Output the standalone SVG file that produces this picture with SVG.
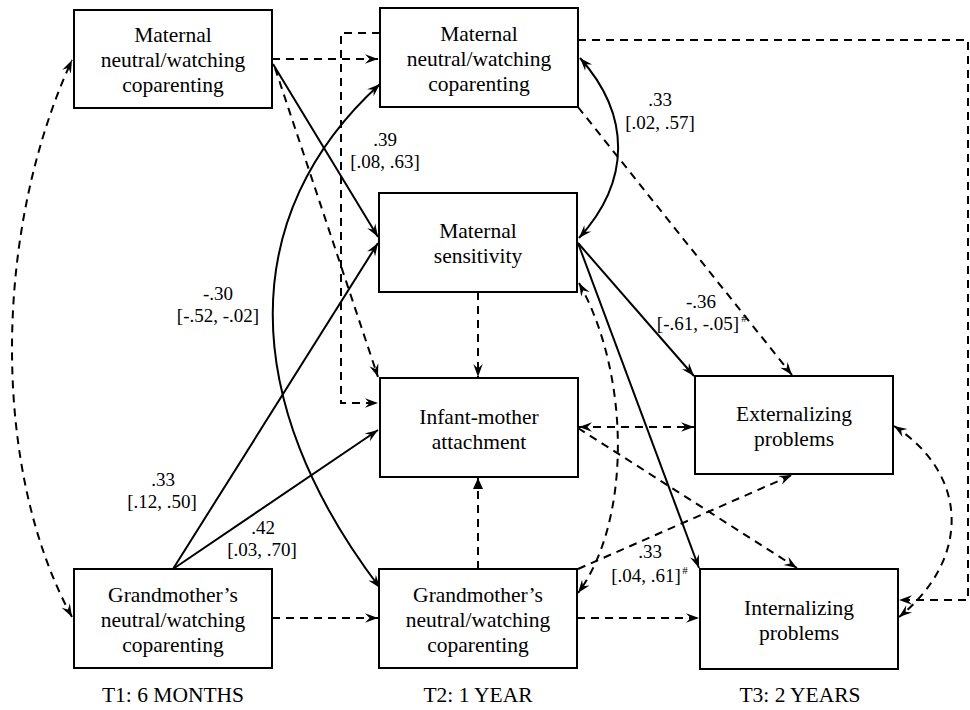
<svg xmlns="http://www.w3.org/2000/svg" width="970" height="710" viewBox="0 0 970 710" font-family="'Liberation Serif', Tinos, 'Times New Roman', 'DejaVu Serif', serif">
<defs>
<marker id="a" markerUnits="userSpaceOnUse" markerWidth="14" markerHeight="12" refX="13" refY="5" orient="auto-start-reverse" overflow="visible">
<path d="M0,0.3 L13,5 L0,9.7 L4.5,5 Z" fill="#000"/>
</marker>
<marker id="t" markerUnits="userSpaceOnUse" markerWidth="12" markerHeight="12" refX="11" refY="5" orient="auto" overflow="visible">
<path d="M0,0 L11,5 L0,10 Z" fill="#000"/>
</marker>
<style>
.box{fill:#fff;stroke:#000;stroke-width:2}
text{font-family:'Liberation Serif', Tinos, 'Times New Roman', 'DejaVu Serif', serif}
.nt{font-size:21.5px;fill:#000;text-anchor:middle}
.lb{font-size:19px;fill:#000;text-anchor:middle}
.sl{fill:none;stroke:#000;stroke-width:2}
.ds{fill:none;stroke:#000;stroke-width:2;stroke-dasharray:8 6}
</style>
</defs>
<rect width="970" height="710" fill="#fff"/>
<g id="connectors">
<path class="ds" d="M72,617 C-8,471 -8,234 72,60" marker-start="url(#a)" marker-end="url(#a)"/>
<path class="ds" d="M272,59 H378" marker-end="url(#a)"/>
<path class="sl" d="M273,64 L378,237" marker-end="url(#a)"/>
<path class="ds" d="M275,68 L378,377" marker-end="url(#a)"/>
<path class="ds" d="M380,33 H341 V403 H378" marker-end="url(#a)"/>
<path class="sl" d="M380,84 C237,214 237,400 380,588" marker-start="url(#a)" marker-end="url(#a)"/>
<path class="sl" d="M173,569 L378,243" marker-end="url(#a)"/>
<path class="sl" d="M173,569 L378,430" marker-end="url(#a)"/>
<path class="ds" d="M272,618 H378" marker-end="url(#a)"/>
<path class="ds" d="M478,292 V377" marker-end="url(#a)"/>
<path class="ds" d="M478,569 V478" marker-end="url(#t)"/>
<path class="sl" d="M580,58 C631,115 631,181 579,238" marker-start="url(#a)" marker-end="url(#a)"/>
<path class="ds" d="M578,107 L792,375" marker-end="url(#a)"/>
<path class="ds" d="M578,40 H968 V600 H899" marker-end="url(#a)"/>
<path class="sl" d="M578,243 L694,376" marker-end="url(#a)"/>
<path class="sl" d="M578,243 L699,568" marker-end="url(#a)"/>
<path class="ds" d="M579,427 H694" marker-start="url(#a)" marker-end="url(#a)"/>
<path class="ds" d="M578,428 L797,568" marker-end="url(#a)"/>
<path class="ds" d="M578,569 L792,475" marker-end="url(#a)"/>
<path class="ds" d="M579,283 C631,376 631,522 578,593" marker-start="url(#a)" marker-end="url(#a)"/>
<path class="ds" d="M577,618 H699" marker-end="url(#a)"/>
<path class="ds" d="M894,426 C970,475 970,560 899,617" marker-start="url(#a)" marker-end="url(#a)"/>
</g>
<g id="n_mat_t1">
<rect class="box" x="74" y="10" width="198" height="98"/>
<text class="nt" x="173" y="42">Maternal</text>
<text class="nt" x="173" y="67">neutral/watching</text>
<text class="nt" x="173" y="92">coparenting</text>
</g>
<g id="n_gm_t1">
<rect class="box" x="74" y="569" width="198" height="99"/>
<text class="nt" x="173" y="602">Grandmother’s</text>
<text class="nt" x="173" y="627">neutral/watching</text>
<text class="nt" x="173" y="652">coparenting</text>
</g>
<g id="n_mat_t2">
<rect class="box" x="380" y="8" width="198" height="99"/>
<text class="nt" x="479" y="41">Maternal</text>
<text class="nt" x="479" y="66">neutral/watching</text>
<text class="nt" x="479" y="91">coparenting</text>
</g>
<g id="n_sens">
<rect class="box" x="379" y="193" width="198" height="99"/>
<text class="nt" x="478" y="238">Maternal</text>
<text class="nt" x="478" y="263">sensitivity</text>
</g>
<g id="n_attach">
<rect class="box" x="380" y="378" width="198" height="99"/>
<text class="nt" x="479" y="424">Infant-mother</text>
<text class="nt" x="479" y="449">attachment</text>
</g>
<g id="n_gm_t2">
<rect class="box" x="379" y="569" width="198" height="99"/>
<text class="nt" x="478" y="602">Grandmother’s</text>
<text class="nt" x="478" y="627">neutral/watching</text>
<text class="nt" x="478" y="652">coparenting</text>
</g>
<g id="n_ext">
<rect class="box" x="695" y="376" width="198" height="98"/>
<text class="nt" x="794" y="421">Externalizing</text>
<text class="nt" x="794" y="446">problems</text>
</g>
<g id="n_int">
<rect class="box" x="700" y="569" width="198" height="100"/>
<text class="nt" x="799" y="615">Internalizing</text>
<text class="nt" x="799" y="640">problems</text>
</g>
<g id="labels">
<text class="lb" x="385" y="146">.39</text>
<text class="lb" x="385" y="168">[.08, .63]</text>
<text class="lb" x="660" y="106">.33</text>
<text class="lb" x="660" y="129">[.02, .57]</text>
<text class="lb" x="218" y="300">-.30</text>
<text class="lb" x="218" y="322">[-.52, -.02]</text>
<text class="lb" x="163" y="486">.33</text>
<text class="lb" x="162" y="508">[.12, .50]</text>
<text class="lb" x="263" y="534">.42</text>
<text class="lb" x="262" y="556">[.03, .70]</text>
<text class="lb" x="701" y="308">-.36</text>
<text class="lb" x="698" y="330">[-.61, -.05]</text>
<text class="lb" x="744" y="322" style="font-size:11px">#</text>
<text class="lb" x="650" y="558">.33</text>
<text class="lb" x="646" y="582">[.04, .61]</text>
<text class="lb" x="685" y="574" style="font-size:11px">#</text>
<text class="nt" x="173" y="702">T1: 6 MONTHS</text>
<text class="nt" x="478" y="702">T2: 1 YEAR</text>
<text class="nt" x="800" y="702">T3: 2 YEARS</text>
</g>
</svg>
